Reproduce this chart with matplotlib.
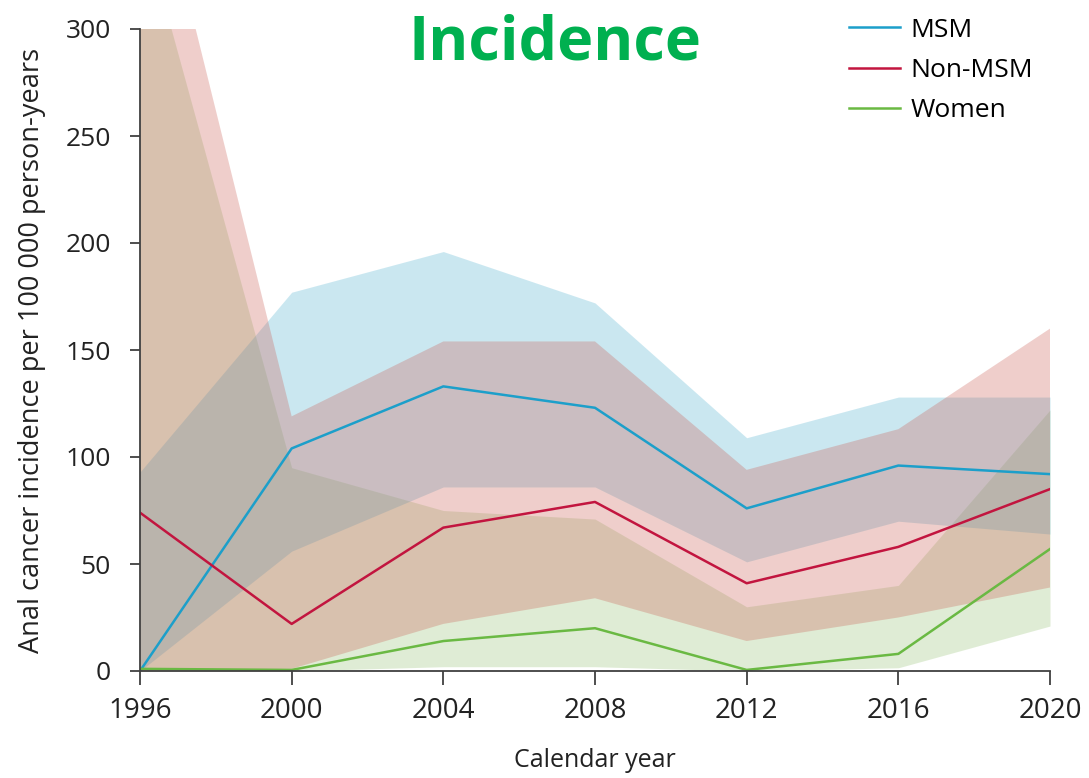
import matplotlib.pyplot as plt

years = [1996, 2000, 2004, 2008, 2012, 2016, 2020]

msm = [0, 104, 133, 123, 76, 96, 92]
msm_lo = [0, 56, 86, 86, 51, 70, 64]
msm_hi = [93, 177, 196, 172, 109, 128, 128]

non_msm = [74, 22, 67, 79, 41, 58, 85]
non_msm_lo = [0, 1, 22, 34, 14, 25, 39]
non_msm_hi = [405, 119, 154, 154, 94, 113, 160]

women = [1, 0.5, 14, 20, 0.5, 8, 57]
women_lo = [0, 0, 2, 2, 0, 1.5, 21]
women_hi = [353, 95, 75, 71, 30, 40, 122]

labels = ["MSM", "Non-MSM", "Women"]
xticks = [1996, 2000, 2004, 2008, 2012, 2016, 2020]
yticks = [0, 50, 100, 150, 200, 250, 300]

line_cols = ["#1c9fca", "#c2153f", "#6ab943"]
fill_cols = ["#52b2d0", "#ca5f55", "#98c376"]

plt.rcParams['font.family'] = ['Open Sans', 'DejaVu Sans']

fig = plt.figure(figsize=(10.89, 7.78), dpi=100)
ax = fig.add_axes([140/1089, 1-671/778, 910/1089, 642/778])

# fills: green first, then blue, pink on top
ax.fill_between(years, women_lo, women_hi, color=fill_cols[2], alpha=0.3, lw=0)
ax.fill_between(years, msm_lo, msm_hi, color=fill_cols[0], alpha=0.3, lw=0)
ax.fill_between(years, non_msm_lo, non_msm_hi, color=fill_cols[1], alpha=0.3, lw=0)

ax.plot(years, msm, color=line_cols[0], lw=1.8, label=labels[0])
ax.plot(years, non_msm, color=line_cols[1], lw=1.8, label=labels[1])
ax.plot(years, women, color=line_cols[2], lw=1.8, label=labels[2])

ax.set_xlim(1996, 2020)
ax.set_ylim(0, 300)
ax.set_xticks(xticks)
ax.set_yticks(yticks)
for s in ["top", "right"]:
    ax.spines[s].set_visible(False)
for s in ["left", "bottom"]:
    ax.spines[s].set_color("#404040")
    ax.spines[s].set_linewidth(1.3)
ax.tick_params(axis="x", length=10, width=1.3, color="#404040", labelsize=20,
               labelcolor="#222222", pad=9)
ax.tick_params(axis="y", length=7, width=1.3, color="#404040", labelsize=19,
               labelcolor="#222222", pad=14)

ax.set_xlabel("Calendar year", fontsize=18, color="#222222", labelpad=16)
ax.set_ylabel("Anal cancer incidence per 100 000 person-years", fontsize=19.5,
              color="#222222", labelpad=14)

fig.text(0.51, 0.944, "Incidence", color="#00b050", fontsize=44,
         fontweight="bold", ha="center", va="center")

fig.legend(loc="upper left", bbox_to_anchor=(825/1089, 1.008), frameon=False,
           fontsize=19, handlelength=1.95, labelspacing=0.58, handletextpad=0.4)

fig.savefig("out.png", dpi=100)
